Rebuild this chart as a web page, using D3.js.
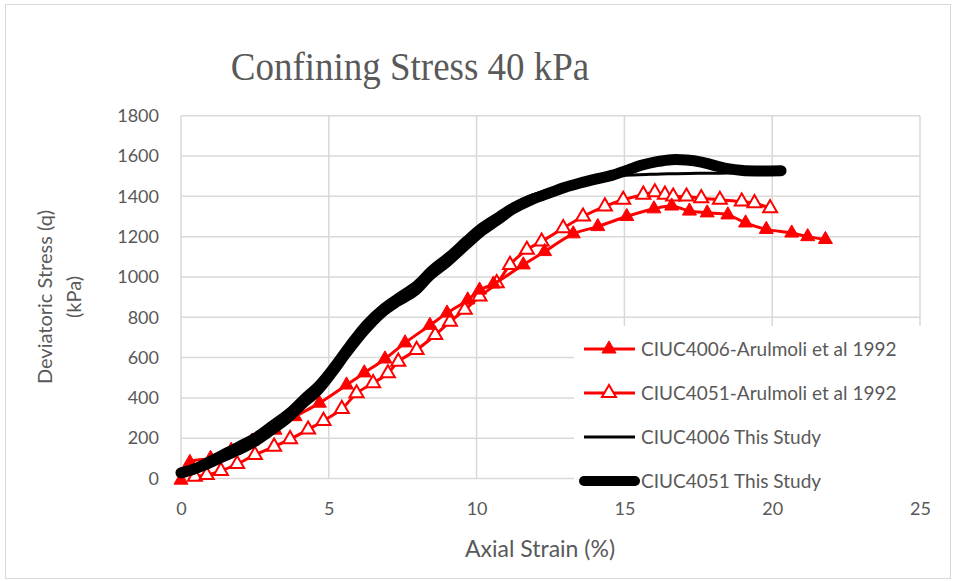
<!DOCTYPE html>
<html>
<head>
<meta charset="utf-8">
<script src="https://cdn.jsdelivr.net/npm/d3@7"></script>
<style>
  body { margin: 0; background: #fff; }
  text { fill: #595959; }
</style>
</head>
<body>
<script>
// data: [axial strain %, deviatoric stress kPa]
var arulmoli4006 = [[0, -8], [0.3, 80], [1.0, 100], [1.7, 140], [2.4, 185], [3.18, 240], [3.86, 307], [4.68, 374],
    [5.6, 464], [6.2, 524], [6.9, 593], [7.58, 673], [8.42, 760], [9.0, 821], [9.7, 886], [10.1, 935],
    [10.57, 965], [11.58, 1060], [12.3, 1126], [13.27, 1214], [14.1, 1250], [15.08, 1300], [16.0, 1338],
    [16.6, 1352], [17.2, 1327], [17.8, 1318], [18.5, 1308], [19.1, 1268], [19.8, 1236], [20.66, 1218],
    [21.2, 1200], [21.8, 1186]];
var arulmoli4051 = [[0.47, 9], [0.87, 17], [1.35, 38], [1.9, 72], [2.5, 117], [3.15, 158], [3.69, 195], [4.3, 243],
    [4.82, 286], [5.44, 345], [5.94, 423], [6.5, 473], [7.0, 522], [7.35, 580], [7.97, 638], [8.6, 712],
    [9.1, 778], [9.6, 837], [10.1, 903], [10.68, 969], [11.13, 1060], [11.7, 1135], [12.2, 1176],
    [12.93, 1242], [13.6, 1300], [14.34, 1350], [14.96, 1383], [15.64, 1408], [16.03, 1420], [16.37, 1408],
    [16.65, 1399], [17.1, 1399], [17.6, 1391], [18.23, 1383], [18.97, 1374], [19.4, 1366], [19.93, 1341]];
var study4006 = [[0, 32], [0.4, 62], [0.8, 92], [1.3, 130], [1.9, 175], [2.5, 222], [3.0, 275], [3.6, 340],
    [4.1, 410], [4.6, 478], [5.1, 568], [5.6, 668], [6.2, 778], [6.8, 860], [7.3, 912], [7.9, 972],
    [8.4, 1045], [9.0, 1115], [9.6, 1195], [10.1, 1258], [10.7, 1315], [11.2, 1362], [11.8, 1402],
    [12.4, 1430], [13.0, 1455], [13.5, 1474], [14.1, 1492], [14.6, 1500], [15.0, 1505], [15.5, 1507],
    [16.5, 1512], [17.5, 1514], [18.5, 1516], [19.5, 1522], [20.3, 1525]];
var study4051 = [[0, 28], [0.4, 45], [0.8, 67], [1.3, 100], [1.9, 140], [2.5, 185], [3.0, 235], [3.6, 300],
    [4.1, 370], [4.6, 435], [5.1, 525], [5.6, 625], [6.2, 735], [6.8, 825], [7.3, 877], [7.9, 930],
    [8.4, 1005], [9.0, 1075], [9.6, 1155], [10.1, 1220], [10.7, 1282], [11.2, 1335], [11.8, 1380],
    [12.4, 1413], [13.0, 1445], [13.5, 1466], [14.1, 1488], [14.6, 1505], [15.1, 1530], [15.6, 1555],
    [16.1, 1572], [16.6, 1582], [17.1, 1580], [17.6, 1570], [18.0, 1555], [18.5, 1537], [19.0, 1528],
    [19.5, 1526], [20.3, 1527]];

var xTicks = [0, 5, 10, 15, 20, 25];
var yTicks = [0, 200, 400, 600, 800, 1000, 1200, 1400, 1600, 1800];
var seriesNames = ['CIUC4006-Arulmoli et al 1992', 'CIUC4051-Arulmoli et al 1992',
    'CIUC4006 This Study', 'CIUC4051 This Study'];

var width = 956, height = 581;
var font = 'Lato, "Open Sans", sans-serif';

var svg = d3.select('body').append('svg')
    .attr('width', width)
    .attr('height', height);

// chart border
svg.append('rect')
    .attr('x', 5.5).attr('y', 4.5)
    .attr('width', 945).attr('height', 574)
    .attr('fill', '#fff')
    .attr('stroke', '#d9d9d9');

var x = d3.scaleLinear().domain([0, 25]).range([181, 920]);
var y = d3.scaleLinear().domain([0, 1800]).range([478.5, 115.7]);

// gridlines
var grid = svg.append('g').attr('class', 'grid');
grid.selectAll('line.h')
    .data(yTicks)
    .enter().append('line')
    .attr('x1', x(0)).attr('x2', x(25))
    .attr('y1', d => y(d)).attr('y2', d => y(d))
    .attr('stroke', '#d9d9d9').attr('stroke-width', 1.5);
grid.selectAll('line.v')
    .data(xTicks)
    .enter().append('line')
    .attr('x1', d => x(d)).attr('x2', d => x(d))
    .attr('y1', y(0)).attr('y2', y(1800))
    .attr('stroke', '#d9d9d9').attr('stroke-width', 1.5);

// axes (labels only, lines come from the grid)
var xAxis = svg.append('g')
    .attr('transform', 'translate(0,' + y(0) + ')')
    .call(d3.axisBottom(x).tickValues(xTicks).tickSize(0).tickPadding(24).tickFormat(d3.format('d')));
var yAxis = svg.append('g')
    .attr('transform', 'translate(' + x(0) + ',0)')
    .call(d3.axisLeft(y).tickValues(yTicks).tickSize(0).tickPadding(22).tickFormat(d3.format('d')));
[xAxis, yAxis].forEach(function (axis) {
    axis.select('.domain').remove();
    axis.selectAll('text')
        .style('font-family', font)
        .style('font-size', '18px')
        .style('fill', '#595959');
});

var line = d3.line()
    .x(d => x(d[0]))
    .y(d => y(d[1]))
    .curve(d3.curveCatmullRom);

var tri = d3.symbol().type(d3.symbolTriangle).size(85);

var plot = svg.append('g').attr('class', 'plot');

// Arulmoli lines with markers
function addRed(data, filled) {
    var g = plot.append('g');
    g.append('path')
        .attr('d', line(data))
        .attr('fill', 'none')
        .attr('stroke', '#ff0000')
        .attr('stroke-width', 3);
    g.selectAll('path.m')
        .data(data)
        .enter().append('path')
        .attr('class', 'm')
        .attr('d', tri)
        .attr('transform', d => 'translate(' + x(d[0]) + ',' + y(d[1]) + ')')
        .attr('fill', filled ? '#ff0000' : '#fff')
        .attr('stroke', '#ff0000')
        .attr('stroke-width', filled ? 1 : 2);
}
addRed(arulmoli4051, false);
addRed(arulmoli4006, true);

plot.append('path')
    .attr('d', line(study4051))
    .attr('fill', 'none')
    .attr('stroke', '#000')
    .attr('stroke-width', 11)
    .attr('stroke-linecap', 'round');
plot.append('path')
    .attr('d', line(study4006))
    .attr('fill', 'none')
    .attr('stroke', '#000')
    .attr('stroke-width', 3);

// title
svg.append('text')
    .attr('transform', 'translate(410,80) scale(1,1.1)')
    .attr('text-anchor', 'middle')
    .style('font-family', '"Liberation Serif", "Times New Roman", serif')
    .style('font-size', '37px')
    .text('Confining Stress 40 kPa');

// axis titles
svg.append('text')
    .attr('x', 540).attr('y', 557)
    .attr('text-anchor', 'middle')
    .style('font-family', font)
    .style('font-size', '23px')
    .text('Axial Strain (%)');
var yTitle = svg.append('text')
    .attr('transform', 'translate(52,297) rotate(-90)')
    .attr('text-anchor', 'middle')
    .style('font-family', font)
    .style('font-size', '20px');
yTitle.append('tspan').attr('x', 0).attr('dy', 0).text('Deviatoric Stress (q)');
yTitle.append('tspan').attr('x', 0).attr('dy', 29).text('(kPa)');

// legend
var legend = svg.append('g').attr('class', 'legend');
legend.append('rect')
    .attr('x', 574).attr('y', 326)
    .attr('width', 349).attr('height', 172)
    .attr('fill', '#fff');
var legendY = [349, 393, 437, 481];
seriesNames.forEach(function (name, i) {
    var g = legend.append('g').attr('transform', 'translate(0,' + legendY[i] + ')');
    g.append('line')
        .attr('x1', 584).attr('x2', 635)
        .attr('stroke', i < 2 ? '#ff0000' : '#000')
        .attr('stroke-width', i === 3 ? 10 : 3)
        .attr('stroke-linecap', i === 3 ? 'round' : 'butt');
    if (i < 2) {
        g.append('path')
            .attr('d', tri)
            .attr('transform', 'translate(609,0)')
            .attr('fill', i === 0 ? '#ff0000' : '#fff')
            .attr('stroke', '#ff0000')
            .attr('stroke-width', i === 0 ? 1 : 2);
    }
    g.append('text')
        .attr('x', 641).attr('y', 0)
        .attr('dy', '0.35em')
        .style('font-family', font)
        .style('font-size', '19px')
        .text(name);
});
</script>
</body>
</html>
